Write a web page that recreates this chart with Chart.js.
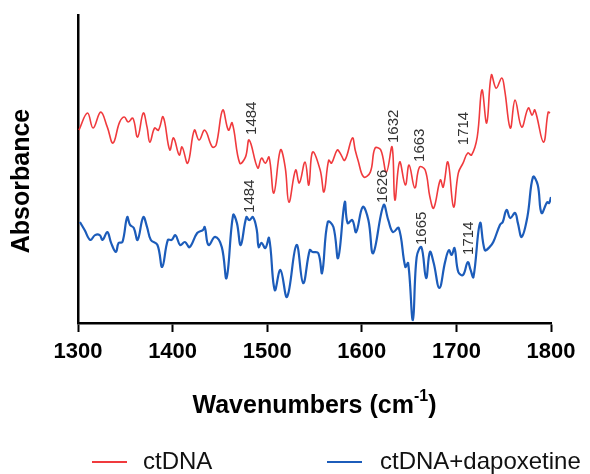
<!DOCTYPE html>
<html>
<head>
<meta charset="utf-8">
<script src="https://cdn.jsdelivr.net/npm/chart.js@4/dist/chart.umd.min.js"></script>
<style>
  html, body { margin: 0; padding: 0; background: #fff; }
  #grafico { display: block; }
</style>
</head>
<body>
<canvas id="grafico" width="590" height="474"></canvas>
<script>
// ctDNA spectrum (red)
const ondasDna = [1301, 1310, 1316, 1324, 1331, 1337, 1344, 1349, 1353, 1358, 1363, 1369, 1373, 1376, 1381, 1385, 1390, 1397, 1401, 1407, 1410, 1416, 1423, 1428, 1434, 1442, 1446, 1453, 1459, 1463, 1471, 1477, 1481, 1490, 1494, 1498, 1502, 1507, 1514, 1519, 1523, 1530, 1534, 1540, 1544, 1548, 1556, 1560, 1565, 1568, 1574, 1577, 1582, 1590, 1593, 1596, 1602, 1609, 1614, 1620, 1626, 1632, 1635, 1640, 1646, 1650, 1656, 1661, 1667, 1672, 1676, 1683, 1686, 1691, 1697, 1702, 1707, 1712, 1716, 1722, 1727, 1732, 1737, 1742, 1748, 1751, 1757, 1762, 1769, 1776, 1780, 1783, 1792, 1797, 1799];
const absDna = [0.643, 0.700, 0.650, 0.703, 0.653, 0.600, 0.670, 0.687, 0.670, 0.683, 0.620, 0.700, 0.653, 0.603, 0.650, 0.643, 0.687, 0.577, 0.617, 0.560, 0.587, 0.533, 0.643, 0.610, 0.643, 0.587, 0.593, 0.710, 0.643, 0.667, 0.533, 0.553, 0.610, 0.517, 0.550, 0.533, 0.553, 0.433, 0.577, 0.520, 0.403, 0.510, 0.467, 0.537, 0.460, 0.570, 0.510, 0.437, 0.543, 0.533, 0.577, 0.567, 0.543, 0.617, 0.577, 0.543, 0.487, 0.503, 0.583, 0.577, 0.503, 0.587, 0.410, 0.537, 0.460, 0.527, 0.450, 0.520, 0.510, 0.420, 0.383, 0.477, 0.453, 0.537, 0.387, 0.500, 0.533, 0.567, 0.560, 0.620, 0.777, 0.667, 0.827, 0.783, 0.817, 0.777, 0.650, 0.743, 0.653, 0.717, 0.693, 0.710, 0.603, 0.703, 0.700];

// ctDNA+dapoxetine spectrum (blue)
const ondasDapox = [1302, 1307, 1313, 1318, 1323, 1326, 1331, 1335, 1340, 1343, 1347, 1352, 1355, 1359, 1363, 1369, 1373, 1377, 1384, 1389, 1395, 1399, 1403, 1408, 1413, 1418, 1426, 1432, 1434, 1438, 1445, 1452, 1457, 1464, 1468, 1472, 1478, 1481, 1485, 1489, 1491, 1494, 1498, 1502, 1508, 1514, 1521, 1531, 1538, 1545, 1548, 1554, 1558, 1564, 1570, 1575, 1582, 1585, 1590, 1594, 1601, 1607, 1612, 1623, 1628, 1633, 1639, 1646, 1649, 1654, 1658, 1663, 1668, 1672, 1676, 1682, 1688, 1692, 1695, 1698, 1702, 1707, 1712, 1715, 1718, 1725, 1730, 1735, 1739, 1746, 1749, 1753, 1757, 1762, 1765, 1769, 1775, 1781, 1786, 1790, 1796, 1798, 1800];
const absDapox = [0.337, 0.310, 0.277, 0.293, 0.293, 0.277, 0.303, 0.267, 0.237, 0.267, 0.270, 0.353, 0.327, 0.317, 0.277, 0.353, 0.320, 0.277, 0.260, 0.187, 0.277, 0.277, 0.293, 0.260, 0.270, 0.253, 0.300, 0.310, 0.320, 0.260, 0.287, 0.253, 0.150, 0.360, 0.333, 0.260, 0.353, 0.343, 0.353, 0.310, 0.253, 0.267, 0.250, 0.283, 0.110, 0.177, 0.087, 0.260, 0.133, 0.243, 0.237, 0.233, 0.167, 0.337, 0.320, 0.217, 0.403, 0.333, 0.343, 0.303, 0.387, 0.343, 0.233, 0.393, 0.343, 0.303, 0.317, 0.187, 0.200, 0.010, 0.220, 0.253, 0.150, 0.237, 0.200, 0.117, 0.203, 0.243, 0.227, 0.250, 0.170, 0.160, 0.203, 0.177, 0.153, 0.333, 0.243, 0.253, 0.270, 0.327, 0.337, 0.377, 0.350, 0.367, 0.333, 0.287, 0.353, 0.487, 0.460, 0.367, 0.403, 0.400, 0.420];

const ticksX = [1300, 1400, 1500, 1600, 1700, 1800];

// peak labels: text, wavenumber where drawn, absorbance at the foot of the text
const picosDna = ["1484", "1632", "1663", "1714"];
const picosDnaX = [1484, 1634, 1661, 1708];
const picosDnaY = [0.627, 0.600, 0.537, 0.593];

const picosDapox = ["1484", "1626", "1665", "1714"];
const picosDapoxX = [1482, 1622, 1664, 1713];
const picosDapoxY = [0.367, 0.400, 0.260, 0.227];

const nomesSeries = ["ctDNA", "ctDNA+dapoxetine"];
const coresSeries = ["#f03a3d", "#1c5cba"];

const FONTE = "'Liberation Sans', Arial, sans-serif";

function montarPontos(ondas, valores) {
  return ondas.map((x, i) => ({ x, y: valores[i] }));
}

const rotulosPicos = {
  id: "rotulosPicos",
  afterDatasetsDraw(chart) {
    const { ctx, scales } = chart;
    const grupos = [
      [picosDna, picosDnaX, picosDnaY],
      [picosDapox, picosDapoxX, picosDapoxY]
    ];

    ctx.save();
    ctx.fillStyle = "#333";
    ctx.font = "15px " + FONTE;
    ctx.textAlign = "left";
    ctx.textBaseline = "middle";

    grupos.forEach(([textos, xs, ys]) => {
      textos.forEach((texto, i) => {
        ctx.save();
        ctx.translate(scales.x.getPixelForValue(xs[i]), scales.y.getPixelForValue(ys[i]));
        ctx.rotate(-Math.PI / 2);
        ctx.fillText(texto, 0, 0);
        ctx.restore();
      });
    });
    ctx.restore();
  }
};

const titulosELegenda = {
  id: "titulosELegenda",
  afterDraw(chart) {
    const { ctx, chartArea } = chart;
    ctx.save();
    ctx.fillStyle = "#000";
    ctx.textBaseline = "middle";

    // y axis title, a bit below the middle of the axis like the original
    ctx.save();
    ctx.translate(22, 181);
    ctx.rotate(-Math.PI / 2);
    ctx.textAlign = "center";
    ctx.font = "bold 25px " + FONTE;
    ctx.fillText("Absorbance", 0, 0);
    ctx.restore();

    // x axis title with superscript
    const centro = (chartArea.left + chartArea.right) / 2;
    const yTitulo = 406;
    const fonteTitulo = "bold 25px " + FONTE;
    const fonteSobrescrito = "bold 16px " + FONTE;
    ctx.font = fonteTitulo;
    const parte1 = "Wavenumbers (cm";
    const parte3 = ")";
    const w1 = ctx.measureText(parte1).width;
    const w3 = ctx.measureText(parte3).width;
    ctx.font = fonteSobrescrito;
    const w2 = ctx.measureText("-1").width;
    let x = centro - (w1 + w2 + w3) / 2;
    ctx.textAlign = "left";
    ctx.font = fonteTitulo;
    ctx.fillText(parte1, x, yTitulo);
    x += w1;
    ctx.font = fonteSobrescrito;
    ctx.fillText("-1", x, yTitulo - 9);
    x += w2;
    ctx.font = fonteTitulo;
    ctx.fillText(parte3, x, yTitulo);

    // legend
    const posicoes = [[92, 143], [327, 380]];
    const yLegenda = 462;
    ctx.font = "24px " + FONTE;
    nomesSeries.forEach((nome, i) => {
      const [xLinha, xTexto] = posicoes[i];
      ctx.strokeStyle = coresSeries[i];
      ctx.lineWidth = 2;
      ctx.beginPath();
      ctx.moveTo(xLinha, yLegenda);
      ctx.lineTo(xLinha + 35, yLegenda);
      ctx.stroke();
      ctx.fillStyle = "#111";
      ctx.fillText(nome, xTexto, yLegenda);
    });
    ctx.restore();
  }
};

new Chart(document.getElementById("grafico"), {
  type: "line",
  data: {
    datasets: [
      {
        label: nomesSeries[0],
        data: montarPontos(ondasDna, absDna),
        borderColor: coresSeries[0],
        borderWidth: 1.6,
        pointRadius: 0,
        tension: 0.4
      },
      {
        label: nomesSeries[1],
        data: montarPontos(ondasDapox, absDapox),
        borderColor: coresSeries[1],
        borderWidth: 2.2,
        pointRadius: 0,
        tension: 0.4
      }
    ]
  },
  options: {
    responsive: false,
    animation: false,
    events: [],
    layout: {
      padding: { top: 15, right: 39, left: 0, bottom: 0 }
    },
    plugins: {
      legend: { display: false },
      tooltip: { enabled: false }
    },
    scales: {
      x: {
        type: "linear",
        min: 1300,
        max: 1800,
        afterBuildTicks(scale) {
          scale.ticks = ticksX.map(value => ({ value }));
        },
        afterFit(scale) {
          scale.height = 151;
        },
        grid: {
          drawOnChartArea: false,
          drawTicks: true,
          tickLength: 9,
          tickWidth: 2,
          tickColor: "#000"
        },
        border: { color: "#000", width: 2.5 },
        ticks: {
          color: "#000",
          padding: 7,
          maxRotation: 0,
          callback: value => String(value),
          font: { family: FONTE, size: 22, weight: "bold" }
        }
      },
      y: {
        min: 0,
        max: 1.027,
        afterFit(scale) {
          scale.width = 78;
        },
        grid: { display: false },
        border: { color: "#000", width: 2.5 },
        ticks: { display: false }
      }
    }
  },
  plugins: [rotulosPicos, titulosELegenda]
});
</script>
</body>
</html>
